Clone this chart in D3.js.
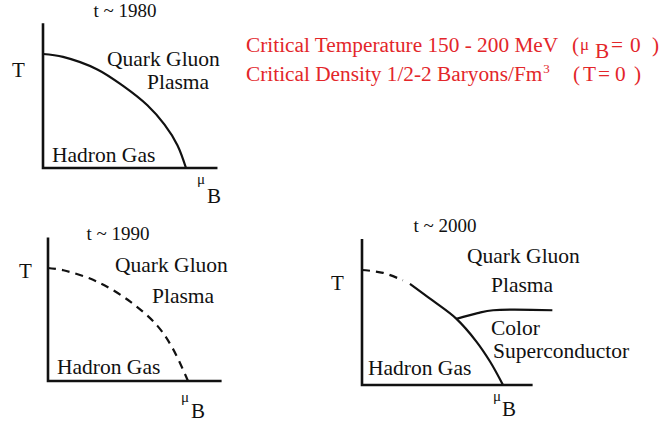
<!DOCTYPE html>
<html>
<head>
<meta charset="utf-8">
<script src="https://cdn.jsdelivr.net/npm/d3@7"></script>
<style>
  body { margin: 0; background: #fff; }
  svg { display: block; }
</style>
</head>
<body>
<div id="chart"></div>
<script>
const width = 670;
const height = 423;
const serif = "'Liberation Serif', 'DejaVu Serif', serif";

// eras shown in the three sketches
const years = ["1980", "1990", "2000"];

// phase boundaries, [muB, T] in units of the critical values
const boundary1980 = [[0, 1], [0.14, 0.975], [0.38, 0.865], [0.56, 0.72], [0.73, 0.55], [0.85, 0.38], [0.94, 0.2], [1, 0]];
const boundary1990 = [[0, 1], [0.11, 0.98], [0.35, 0.88], [0.59, 0.70], [0.78, 0.49], [0.89, 0.29], [1, 0]];
const crossover2000 = [[0, 1], [0.15, 0.975], [0.29, 0.91]];
const boundary2000 = [[0.34, 0.88], [0.50, 0.735], [0.67, 0.575], [0.81, 0.38], [0.91, 0.2], [1, 0]];
const colorSuper2000 = [[0.67, 0.575], [0.82, 0.625], [0.93, 0.65], [1.35, 0.65]];

// region names
const labels1980 = ["Quark Gluon", "Plasma", "Hadron Gas"];
const labels1990 = ["Quark Gluon", "Plasma", "Hadron Gas"];
const labels2000 = ["Quark Gluon", "Plasma", "Color", "Superconductor", "Hadron Gas"];

const redLine1 = ["Critical Temperature 150 - 200 MeV", "(", "\u03bc", "B", "=", "0", ")"];
const redLine2 = ["Critical Density 1/2-2 Baryons/Fm", "3", "(", "T", "=", "0", ")"];

const panels = [
  {year: years[0], x0: 43, x1: 186, y0: 168, y1: 54, xMax: 1.22, yMax: 1.27,
   title: [125, 17], tLab: [12, 77], mu: [197, 184], b: [207, 203],
   labels: labels1980, pos: [[107, 66], [147, 89], [52, 162]],
   curves: [{d: boundary1980, dash: null}]},
  {year: years[1], x0: 48, x1: 188, y0: 381, y1: 268, xMax: 1.24, yMax: 1.27,
   title: [118, 240], tLab: [19, 278], mu: [181, 402], b: [191, 418],
   labels: labels1990, pos: [[115, 272], [152, 303], [57, 374]],
   curves: [{d: boundary1990, dash: "8,6"}]},
  {year: years[2], x0: 362, x1: 503, y0: 385, y1: 270, xMax: 1.21, yMax: 1.27,
   title: [445, 232], tLab: [331, 290], mu: [493, 401], b: [502, 416],
   labels: labels2000, pos: [[467, 263], [491, 292], [491, 335], [493, 358], [368, 375]],
   curves: [{d: crossover2000, dash: "8,6"}, {d: boundary2000, dash: null}, {d: colorSuper2000, dash: null}]}
];

const svg = d3.select("#chart").append("svg")
  .attr("width", width)
  .attr("height", height)
  .attr("font-family", serif);

panels.forEach(p => {
  const x = d3.scaleLinear().domain([0, 1]).range([p.x0, p.x1]);
  const y = d3.scaleLinear().domain([0, 1]).range([p.y0, p.y1]);
  const g = svg.append("g").attr("fill", "#111");

  // axes: plain L shape
  g.append("path")
    .attr("d", `M${x(0)},${y(p.yMax)}V${y(0)}H${x(p.xMax)}`)
    .attr("fill", "none")
    .attr("stroke", "#111")
    .attr("stroke-width", 2.6);

  const line = d3.line()
    .x(d => x(d[0]))
    .y(d => y(d[1]))
    .curve(d3.curveCatmullRom.alpha(0.5));

  p.curves.forEach(c => {
    g.append("path")
      .attr("d", line(c.d))
      .attr("fill", "none")
      .attr("stroke", "#111")
      .attr("stroke-width", 2.2)
      .attr("stroke-dasharray", c.dash);
  });

  g.append("text")
    .attr("x", p.title[0]).attr("y", p.title[1])
    .attr("text-anchor", "middle")
    .attr("font-size", 19)
    .text("t ~ " + p.year);

  g.append("text")
    .attr("x", p.tLab[0]).attr("y", p.tLab[1])
    .attr("font-size", 21)
    .text("T");

  g.append("text")
    .attr("x", p.mu[0]).attr("y", p.mu[1])
    .attr("font-size", 15)
    .text("\u03bc");
  g.append("text")
    .attr("x", p.b[0]).attr("y", p.b[1])
    .attr("font-size", 21)
    .text("B");

  g.selectAll("text.region")
    .data(p.labels)
    .join("text")
    .attr("class", "region")
    .attr("x", (d, i) => p.pos[i][0])
    .attr("y", (d, i) => p.pos[i][1])
    .attr("font-size", 21.5)
    .text(d => d);
});

// red notes at the top right
const red = "#e3262a";
const note = svg.append("g").attr("fill", red);
const line1X = [246, 572, 580, 595, 611, 630, 652];
const line1Y = [52, 52, 50, 58, 52, 52, 52];
const line1S = [21.3, 21.3, 17, 21.3, 21.3, 21.3, 21.3];
redLine1.forEach((t, i) => {
  note.append("text")
    .attr("x", line1X[i]).attr("y", line1Y[i])
    .attr("font-size", line1S[i])
    .text(t);
});
const line2X = [246, 0, 573, 583, 598, 615, 634];
const line2Y = [81, 73, 81, 81, 81, 81, 81];
const line2S = [21.3, 13, 21.3, 21.3, 21.3, 21.3, 21.3];
let base2 = null;
redLine2.forEach((t, i) => {
  const el = note.append("text")
    .attr("x", i === 1 ? base2 + 1 : line2X[i]).attr("y", line2Y[i])
    .attr("font-size", line2S[i])
    .text(t);
  if (i === 0) base2 = line2X[0] + el.node().getComputedTextLength();
});
</script>
</body>
</html>
